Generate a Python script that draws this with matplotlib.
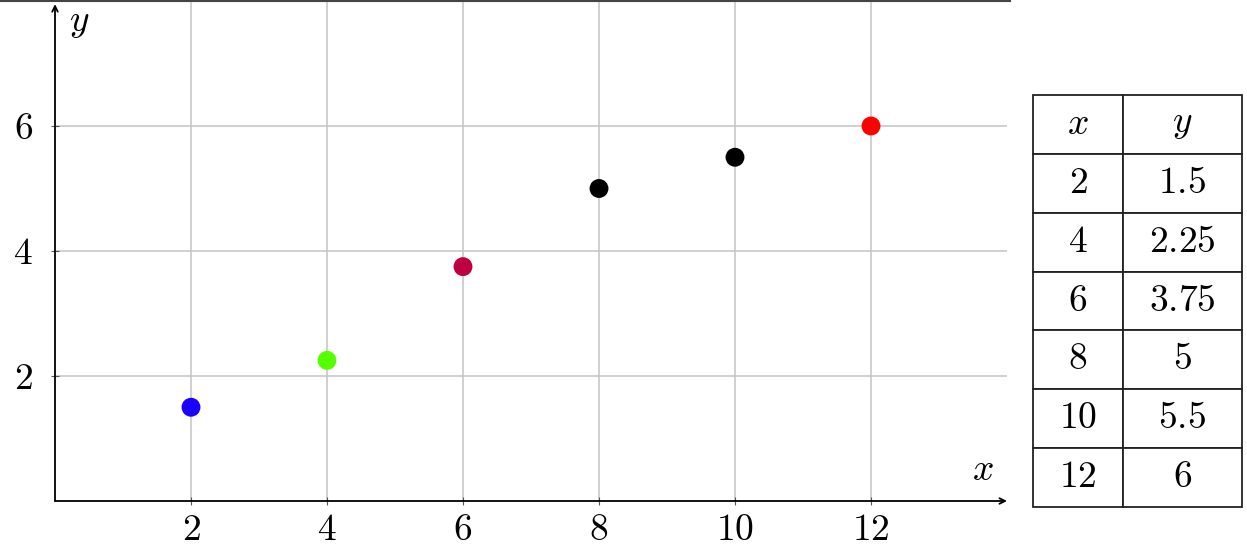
import matplotlib
matplotlib.use("Agg")
import matplotlib.pyplot as plt
from matplotlib.lines import Line2D

plt.rcParams['mathtext.fontset'] = 'cm'
plt.rcParams['font.family'] = 'serif'
plt.rcParams['font.serif'] = ['cmr10', 'DejaVu Serif']

# data
xs = [2, 4, 6, 8, 10, 12]
ys = [1.5, 2.25, 3.75, 5, 5.5, 6]
ys_text = ['1.5', '2.25', '3.75', '5', '5.5', '6']
point_colors = ['#1a00ff', '#55ff00', '#bf0040', '#000000', '#000000', '#ff0000']
xticks = [2, 4, 6, 8, 10, 12]
yticks = [2, 4, 6]

W, H = 1247, 558
fig = plt.figure(figsize=(W / 100, H / 100), dpi=100)

# main axes, pixel box from the reference
ax = fig.add_axes([55 / W, (H - 501) / H, (1007 - 55) / W, (501 - 1) / H])
ax.set_xlim(0, 14)
ax.set_ylim(0, 8)

for s in ax.spines.values():
    s.set_visible(False)

ax.set_xticks(xticks)
ax.set_yticks(yticks)
ax.set_xticklabels([r'$%d$' % t for t in xticks])
ax.set_yticklabels([r'$%d$' % t for t in yticks])
ax.tick_params(direction='inout', length=6, width=0.8, color='#555555',
               labelsize=27)
ax.tick_params(axis='x', pad=6)
ax.tick_params(axis='y', pad=13)
ax.grid(True, color='#c4c4c4', linewidth=1.1)
ax.set_axisbelow(True)

# axis arrows
ax.annotate('', xy=(14, 0), xytext=(0, 0),
            arrowprops=dict(arrowstyle='->', color='black', lw=1.3,
                            shrinkA=0, shrinkB=0), annotation_clip=False)
ax.annotate('', xy=(0, 7.95), xytext=(0, 0),
            arrowprops=dict(arrowstyle='->', color='black', lw=1.3,
                            shrinkA=0, shrinkB=0), annotation_clip=False)
ax.text(13.65, 0.22, r'$x$', fontsize=27, ha='center', va='bottom')
ax.text(0.2, 7.65, r'$y$', fontsize=27, ha='left', va='center')

ax.scatter(xs, ys, s=185, c=point_colors, zorder=3, linewidths=0)

# thin rule along the top edge
fig.add_artist(Line2D([0, 1010 / W], [1 - 1 / H, 1 - 1 / H],
                      transform=fig.transFigure, color='#444444', lw=1.5))

# value table
tax = fig.add_axes([1033 / W, (H - 507) / H, (1242 - 1033) / W, (507 - 95) / H])
tax.axis('off')
cells = [[r'$%d$' % x, r'$%s$' % y] for x, y in zip(xs, ys_text)]
tbl = tax.table(cellText=cells, colLabels=[r'$x$', r'$y$'],
                cellLoc='center', bbox=[0, 0, 1, 1],
                colWidths=[90, 119])
tbl.auto_set_font_size(False)
tbl.set_fontsize(27)
for cell in tbl.get_celld().values():
    cell.set_linewidth(1.3)
    cell.set_edgecolor('#222222')

fig.savefig('out.png', dpi=100)
